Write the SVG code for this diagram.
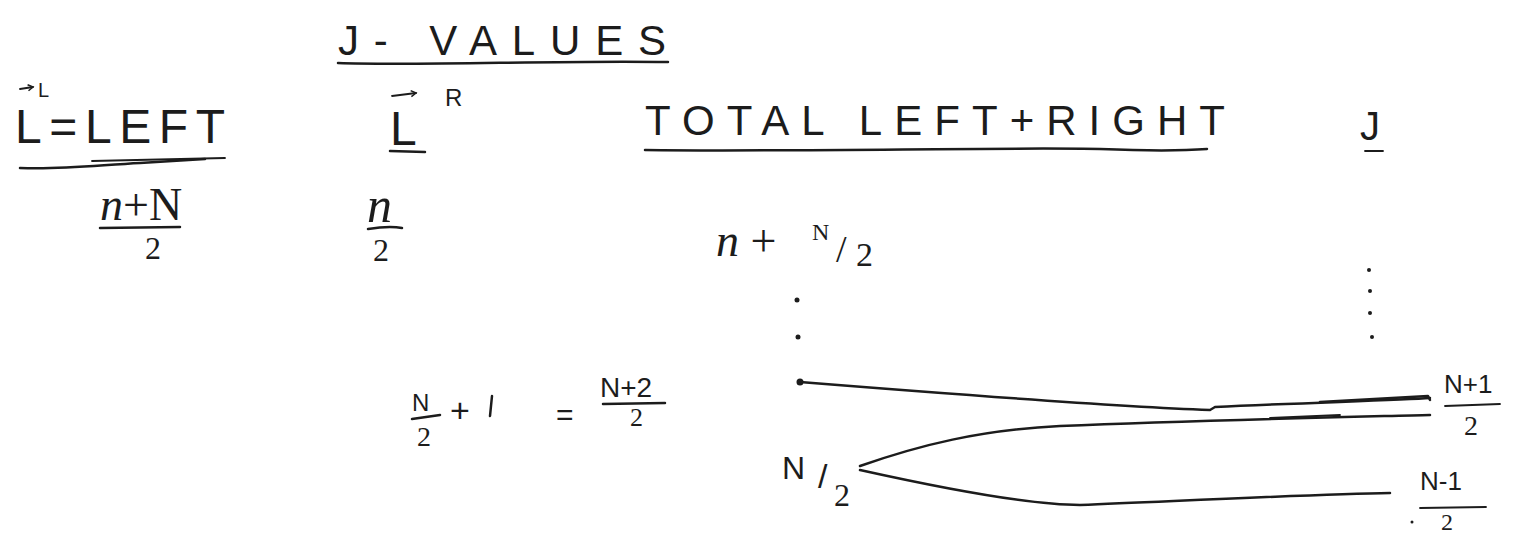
<svg xmlns="http://www.w3.org/2000/svg" width="1519" height="537" viewBox="0 0 1519 537">
<style>
.t{font-family:"Liberation Sans",Arial,sans-serif;fill:#1c1c1c}
.m{font-family:"Liberation Serif","Times New Roman",serif;fill:#1c1c1c}
.i{font-style:italic}
.ln{stroke:#1c1c1c;stroke-width:2.5;fill:none;stroke-linecap:round;stroke-linejoin:round}
.th{stroke-width:1.8}
.dot{fill:#1c1c1c}
</style>
<defs>
<marker id="vec" markerWidth="8" markerHeight="8" refX="6" refY="4" orient="auto" markerUnits="userSpaceOnUse">
<path d="M1,1 L6,4 L1,7" fill="none" stroke="#1c1c1c" stroke-width="1.5"/>
</marker>
</defs>
<rect width="1519" height="537" fill="#ffffff"/>

<g id="title">
<text class="t" x="338" y="55" font-size="42" textLength="328" lengthAdjust="spacing">J- VALUES</text>
<path class="ln" d="M338,63 C420,66 560,60 668,62"/>
</g>

<g id="col-left">
<path class="ln th" d="M20,89 L33,87" marker-end="url(#vec)"/>
<text class="t" x="38" y="97" font-size="20">L</text>
<text class="t" x="15" y="143" font-size="48" textLength="210" lengthAdjust="spacing">L=LEFT</text>
<path class="ln" d="M20,168 C60,170 100,165 140,163 L205,159"/>
<path class="ln th" d="M92,161 L225,158"/>
</g>

<g id="col-right">
<path class="ln th" d="M392,96 L416,93" marker-end="url(#vec)"/>
<text class="t" x="390" y="145" font-size="48">L</text>
<text class="t" x="445" y="106" font-size="24">R</text>
<path class="ln" d="M390,151 L425,152"/>
</g>

<g id="col-total">
<text class="t" x="645" y="135" font-size="42" textLength="580" lengthAdjust="spacing">TOTAL LEFT+RIGHT</text>
<path class="ln" d="M645,150 C800,152 1000,147 1100,149 C1150,151 1180,151 1207,149"/>
</g>

<g id="col-j">
<text class="t" x="1360" y="140" font-size="40">J</text>
<path class="ln th" d="M1365,151 L1383,151"/>
</g>

<g id="val-left">
<text class="m" x="100" y="220" font-size="46"><tspan class="i">n</tspan>+N</text>
<path class="ln" d="M100,228 L180,227"/>
<text class="m" x="145" y="259" font-size="32">2</text>
</g>

<g id="val-right">
<text class="m i" x="367" y="222" font-size="50">n</text>
<path class="ln" d="M368,229 C380,227 392,226 402,228"/>
<text class="m" x="373" y="261" font-size="32">2</text>
</g>

<g id="val-total">
<text class="m" x="716" y="256" font-size="46"><tspan class="i">n</tspan> +</text>
<text class="m" x="812" y="240" font-size="24">N</text>
<text class="m" x="836" y="262" font-size="38">/</text>
<text class="m" x="856" y="266" font-size="34">2</text>
</g>

<g id="ellipsis">
<circle class="dot" cx="797" cy="300" r="2.5"/>
<circle class="dot" cx="798" cy="337" r="2.5"/>
<circle class="dot" cx="1369" cy="270" r="2"/>
<circle class="dot" cx="1370" cy="291" r="2"/>
<circle class="dot" cx="1370" cy="313" r="2"/>
<circle class="dot" cx="1372" cy="337" r="2"/>
</g>

<g id="eq">
<text class="t" x="412" y="411" font-size="24">N</text>
<path class="ln" d="M412,419 L440,415"/>
<text class="m" x="417" y="446" font-size="28">2</text>
<text class="t" x="450" y="422" font-size="34">+</text>
<path class="ln" d="M492,396 L490,416"/>
<text class="t" x="556" y="425" font-size="30">=</text>
<text class="t" x="600" y="397" font-size="28">N+2</text>
<path class="ln" d="M603,404 L665,403"/>
<text class="m" x="630" y="426" font-size="26">2</text>
</g>

<g id="node-n2">
<text class="t" x="782" y="479" font-size="32">N</text>
<text class="t" x="818" y="488" font-size="34">/</text>
<text class="m" x="834" y="506" font-size="32">2</text>
</g>

<g id="node-np1">
<text class="t" x="1444" y="393" font-size="26">N+1</text>
<path class="ln th" d="M1445,406 L1500,404"/>
<text class="m" x="1464" y="435" font-size="28">2</text>
</g>

<g id="node-nm1">
<text class="t" x="1420" y="490" font-size="26">N-1</text>
<path class="ln th" d="M1420,508 L1486,507"/>
<text class="m" x="1441" y="530" font-size="24">2</text>
<circle class="dot" cx="1412" cy="522" r="1.5"/>
</g>

<g id="connectors">
<circle class="dot" cx="800" cy="382" r="3.5"/>
<path class="ln" d="M800,382 C900,390 1100,406 1210,410 L1215,407 C1300,403 1400,400 1430,398"/>
<path class="ln" d="M1320,402 L1428,396 L1430,400"/>
<path class="ln" d="M860,466 C920,445 980,430 1060,426 C1200,420 1350,417 1430,415"/>
<path class="ln th" d="M1270,418 L1340,415"/>
<path class="ln" d="M860,470 C950,490 1030,505 1080,505 C1200,500 1320,494 1390,493"/>
</g>
</svg>
